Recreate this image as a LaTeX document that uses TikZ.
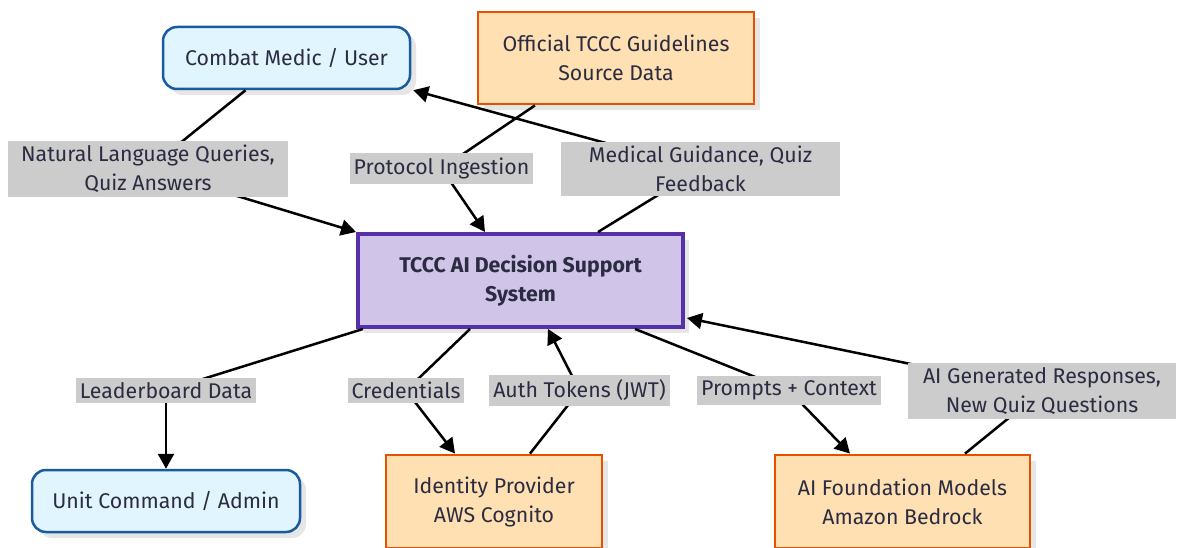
\documentclass[tikz,border=0pt]{standalone}
\usepackage{fontspec}
\setmainfont{Fira Sans}
\usetikzlibrary{arrows.meta,shadows,backgrounds}
\pgfdeclarelayer{foreground}
\pgfsetlayers{background,main,foreground}
\definecolor{txt}{HTML}{2B2B42}
\definecolor{bluefill}{HTML}{E1F5FE}
\definecolor{blueline}{HTML}{1A5A9E}
\definecolor{orfill}{HTML}{FFE0B2}
\definecolor{orline}{HTML}{E65100}
\definecolor{pufill}{HTML}{D1C4E9}
\definecolor{puline}{HTML}{5530A8}
\definecolor{lblfill}{HTML}{CCCCCC}
\definecolor{shade}{HTML}{E6E6E6}
\tikzset{
  base/.style={font=\fontsize{21.3}{29}\selectfont, text=txt, align=center, inner sep=0pt,
    drop shadow={shadow xshift=6pt, shadow yshift=-6pt, fill=shade, opacity=1}},
  actor/.style={base, draw=blueline, fill=bluefill, line width=2.5pt, rounded corners=14pt},
  extsys/.style={base, draw=orline, fill=orfill, line width=2.8pt},
  core/.style={base, draw=puline, fill=pufill, line width=4pt, font=\fontsize{21.3}{29}\selectfont\bfseries},
  lbl/.style={fill=lblfill, text=txt, align=center, inner xsep=4pt, inner ysep=4.5pt,
    font=\fontsize{21.3}{29}\selectfont},
  flow/.style={line width=2.5pt, black},
  arr/.style={flow, -{Triangle[length=15pt, width=16pt]}}
}
\begin{document}
\begin{tikzpicture}[x=1pt, y=-1pt]
\useasboundingbox (0,0) rectangle (1184,548);
% main nodes
\node[actor, minimum width=247pt, minimum height=62pt] (medic) at (286.5,58) {Combat Medic / User};
\node[extsys, minimum width=276pt, minimum height=92pt] (tccc) at (616,58) {Official TCCC Guidelines\\Source Data};
\node[core, minimum width=325pt, minimum height=93pt] (sys) at (520.5,280.5) {TCCC AI Decision Support\\System};
\node[actor, minimum width=268pt, minimum height=62pt] (unit) at (166,501) {Unit Command / Admin};
\node[extsys, minimum width=216pt, minimum height=93pt] (idp) at (494,501.5) {Identity Provider\\AWS Cognito};
\node[extsys, minimum width=255pt, minimum height=93pt] (fm) at (902.5,501.5) {AI Foundation Models\\Amazon Bedrock};
% labels
\begin{pgfonlayer}{foreground}
\node[lbl, minimum width=280pt] (nlq) at (148,169) {Natural Language Queries,\\Quiz Answers};
\node[lbl] (proto) at (441.5,168.5) {Protocol Ingestion};
\node[lbl, minimum width=279pt] (medg) at (700.5,169) {Medical Guidance, Quiz\\Feedback};
\node[lbl] (lead) at (166,390.5) {Leaderboard Data};
\node[lbl] (cred) at (406,390.5) {Credentials};
\node[lbl] (auth) at (579.5,390.5) {Auth Tokens (JWT)};
\node[lbl] (prompt) at (789,390.5) {Prompts + Context};
\node[lbl, minimum width=268pt] (aigen) at (1042,391) {AI Generated Responses,\\New Quiz Questions};
\end{pgfonlayer}
% connectors
\draw[arr] ([xshift=-41pt]medic.south) -- (nlq.center) -- (sys.north west);
\draw[arr] ([xshift=-81pt]tccc.south) -- (proto.center) -- ([xshift=-35.5pt]sys.north);
\draw[arr] ([xshift=77.5pt]sys.north) -- (medg.center) -- ([xshift=2pt]medic.south east);
\draw[flow] ([xshift=7pt]sys.south west) -- (lead.center);
\draw[arr] (lead.center) -- (unit.north);
\draw[arr] ([xshift=-50.5pt]sys.south) -- (cred.center) -- ([xshift=-39pt]idp.north);
\draw[arr] ([xshift=36pt]idp.north) -- (auth.center) -- ([xshift=27.5pt]sys.south);
\draw[arr] ([xshift=114.5pt]sys.south) -- (prompt.center) -- ([xshift=-52.5pt]fm.north);
\draw[arr] ([xshift=62.5pt]fm.north) -- (aigen.center) -- ([xshift=2pt,yshift=11pt]sys.south east);
\end{tikzpicture}
\end{document}
